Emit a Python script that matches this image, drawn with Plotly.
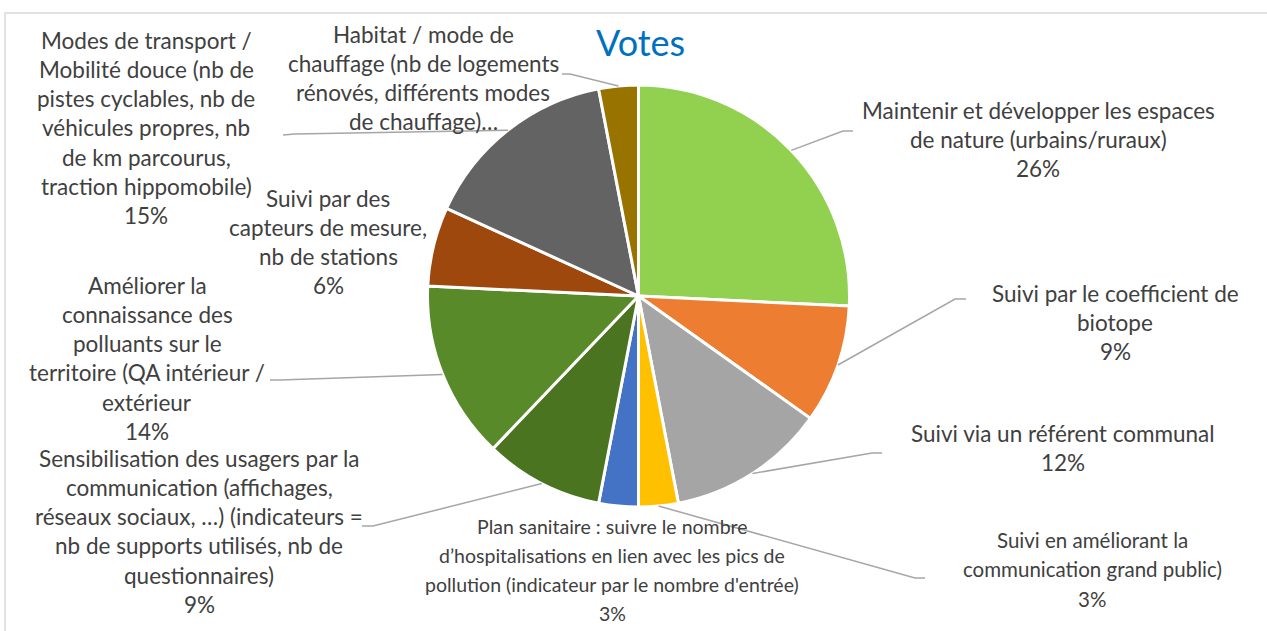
import math
import plotly.graph_objects as go

# ---------------- data ----------------
label_lines = [
    ["Maintenir et développer les espaces", "de nature (urbains/ruraux)"],
    ["Suivi par le coefficient de", "biotope"],
    ["Suivi via un référent communal"],
    ["Suivi en améliorant la", "communication grand public)"],
    ["Plan sanitaire : suivre le nombre", "d’hospitalisations en lien avec les pics de",
     "pollution (indicateur par le nombre d'entrée)"],
    ["Sensibilisation des usagers par la", "communication (affichages,",
     "réseaux sociaux, …) (indicateurs =", "nb de supports utilisés, nb de", "questionnaires)"],
    ["Améliorer la", "connaissance des", "polluants sur le", "territoire (QA intérieur /", "extérieur"],
    ["Suivi par des", "capteurs de mesure,", "nb de stations"],
    ["Modes de transport /", "Mobilité douce (nb de", "pistes cyclables, nb de",
     "véhicules propres, nb", "de km parcourus,", "traction hippomobile)"],
    ["Habitat / mode de", "chauffage (nb de logements", "rénovés, différents modes", "de chauffage)…"],
]
categories = [" ".join(l) for l in label_lines]
votes = [17, 6, 8, 2, 2, 6, 9, 4, 10, 2]
show_pct = [True, True, True, True, True, True, True, True, True, False]
colors = ["#92D050", "#ED7D31", "#A5A5A5", "#FFC000", "#4472C4",
          "#4A7420", "#588A2A", "#9E480E", "#636363", "#997300"]
title_text = "Votes"

# ---------------- layout (pixels) ----------------
W, H = 1267, 631
PCX, PCY, PR = 638.5, 296, 211
LINE_H = 29.3
label_pos = [  # centre x, first line centre y
    (1038, 110), (1115, 293), (1063, 433), (1092, 540), (612, 526),
    (199, 458), (147, 285), (328, 198), (146, 40), (423, 34),
]
label_size = [22.5, 22.5, 22.5, 20.5, 19.5, 22.5, 22.5, 22.5, 22.5, 22.5]
leader = [  # elbow, end  (None = no leader)
    ((843, 131), (853, 131)),
    ((955, 299), (966, 299)),
    ((872, 453), (882, 453)),
    ((915, 578), (925, 578)),
    None,
    ((373, 526), (362, 526)),
    ((280, 380), (270, 380)),
    None,
    ((295, 134), (283, 135)),
    ((570, 74), (562, 74)),
]

fig = go.Figure()
fig.add_trace(go.Pie(
    labels=categories, values=votes, sort=False, direction="clockwise", rotation=0,
    marker=dict(colors=colors, line=dict(color="white", width=3)),
    textinfo="none", showlegend=False, hoverinfo="label+percent",
    domain=dict(x=[(PCX - PR) / W, (PCX + PR) / W],
                y=[(H - PCY - PR) / H, (H - PCY + PR) / H]),
))

total = sum(votes)
annotations = []
shapes = []
cum = 0
for i, v in enumerate(votes):
    lines = list(label_lines[i])
    if show_pct[i]:
        lines.append(f"{round(v / total * 100)}%")
    cx, y0 = label_pos[i]
    for k, t in enumerate(lines):
        annotations.append(dict(
            x=cx, y=y0 + k * LINE_H, xref="x", yref="y", text=t, showarrow=False,
            xanchor="center", yanchor="middle",
            font=dict(family="Lato", size=label_size[i], color="#404040")))
    theta = (cum + v / 2) / total * 2 * math.pi
    cum += v
    if leader[i] is not None:
        sx = PCX + PR * math.sin(theta)
        sy = PCY - PR * math.cos(theta)
        (ex, ey), (fx, fy) = leader[i]
        shapes.append(dict(type="path", xref="x", yref="y",
                           path=f"M {sx},{sy} L {ex},{ey} L {fx},{fy}",
                           line=dict(color="#A6A6A6", width=1.5)))

annotations.append(dict(x=640, y=42, xref="x", yref="y", text=title_text, showarrow=False,
                        xanchor="center", yanchor="middle",
                        font=dict(family="Lato", size=36, color="#0070C0")))
shapes.append(dict(type="rect", xref="x", yref="y", x0=5, y0=13, x1=W + 20, y1=H + 20,
                   line=dict(color="#D9D9D9", width=1.5), layer="below"))

fig.update_layout(
    width=W, height=H, margin=dict(l=0, r=0, t=0, b=0),
    paper_bgcolor="white", plot_bgcolor="white",
    xaxis=dict(range=[0, W], visible=False, fixedrange=True),
    yaxis=dict(range=[H, 0], visible=False, fixedrange=True),
    annotations=annotations, shapes=shapes,
)

fig.write_html("out.html", config={"displayModeBar": False},
               post_script="document.body.style.margin='0';")
